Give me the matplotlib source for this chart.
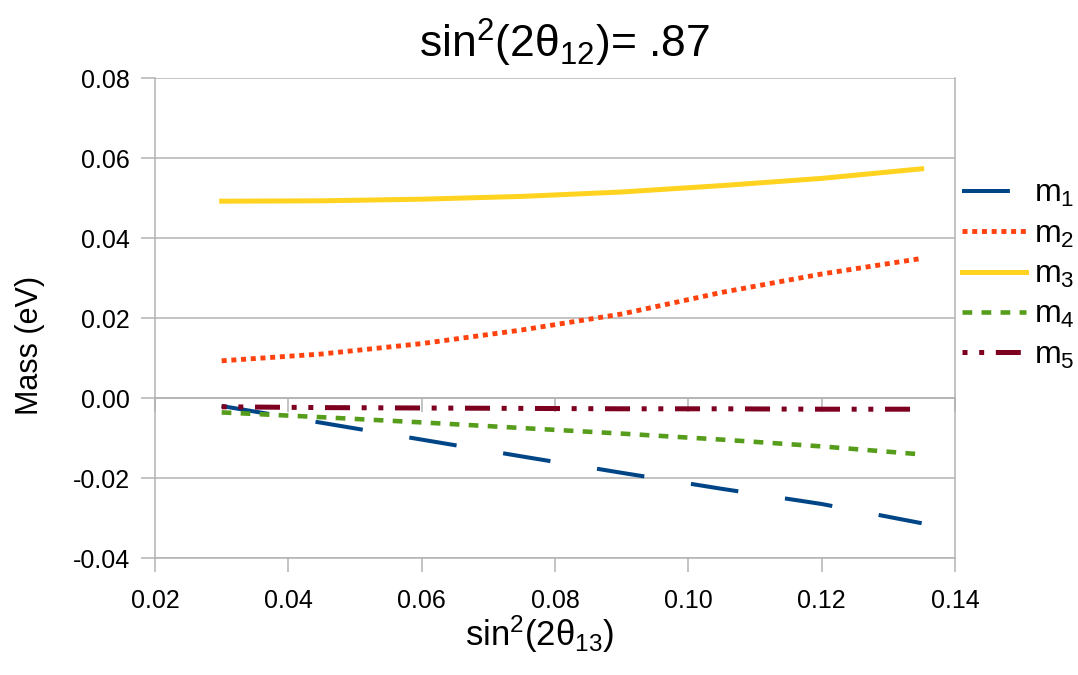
import matplotlib
matplotlib.use("Agg")
import matplotlib.pyplot as plt

plt.rcParams['font.family'] = ['Liberation Sans', 'DejaVu Sans']
plt.rcParams['mathtext.fontset'] = 'custom'
plt.rcParams['mathtext.rm'] = 'Liberation Sans'
plt.rcParams['mathtext.it'] = 'Liberation Sans'
plt.rcParams['lines.scale_dashes'] = False

# sin^2(2 theta_13) values
x = [0.030, 0.045, 0.060, 0.075, 0.090, 0.105, 0.120, 0.135]
m1 = [-0.0020, -0.0062, -0.0104, -0.0146, -0.0187, -0.0227, -0.0265, -0.0313]
m2 = [0.0093, 0.0110, 0.0136, 0.0170, 0.0210, 0.0264, 0.0310, 0.0349]
m3 = [0.0492, 0.0493, 0.0497, 0.0504, 0.0515, 0.0531, 0.0549, 0.0573]
m4 = [-0.0036, -0.0048, -0.0061, -0.0075, -0.0089, -0.0104, -0.0121, -0.0141]
m5 = [-0.0022, -0.0024, -0.0025, -0.0026, -0.0027, -0.0027, -0.0028, -0.0028]
labels = ['m$_1$', 'm$_2$', 'm$_3$', 'm$_4$', 'm$_5$']
xticks = [0.02, 0.04, 0.06, 0.08, 0.10, 0.12, 0.14]
yticks = [-0.04, -0.02, 0.00, 0.02, 0.04, 0.06, 0.08]

grey = '#b3b3b3'

fig = plt.figure(figsize=(10.78, 6.75), dpi=100)
ax = fig.add_axes([155/1078, 1 - 558/675, 800/1078, 480/675])

ax.plot(x, m1, color='#004586', lw=2.9, dashes=(34.5, 34), label=labels[0])
ax.plot(x, m2, color='#ff420e', lw=3.5, dashes=(3.6, 3.4), label=labels[1])
ax.plot(x, m3, color='#ffd320', lw=3.6, label=labels[2])
ax.plot(x, m4, color='#579d1c', lw=3.3, dashes=(7, 6.7), label=labels[3])
ax.plot(x, m5, color='#7e0021', lw=3.6, dashes=(3.6, 8.4, 3.6, 8.4, 18, 8.4), label=labels[4])

ax.set_xlim(0.02, 0.14)
ax.set_ylim(-0.04, 0.08)
ax.set_xticks(xticks)
ax.set_yticks(yticks)
ax.set_xticklabels(['%.2f' % v for v in xticks])
ax.set_yticklabels(['%.2f' % v for v in yticks])
ax.yaxis.grid(True, color=grey, lw=1.1)
ax.set_axisbelow(True)
for s in ax.spines.values():
    s.set_color(grey)
    s.set_linewidth(1.1)
ax.spines['top'].set_visible(False)
ax.tick_params(axis='both', direction='out', length=10, width=1.1, color=grey,
               labelsize=18)
ax.tick_params(axis='x', pad=12)
ax.tick_params(axis='y', pad=8)

# x axis crossing at y = 0
sec = ax.secondary_xaxis(1/3)
sec.set_xticks(xticks)
sec.tick_params(direction='out', length=10, width=1.1, color=grey, labelbottom=False,
                labeltop=False, bottom=True, top=False)
for s in sec.spines.values():
    s.set_color(grey)
    s.set_linewidth(1.1)

fig.text(565/1078, 1 - 58/675, 'sin$^2$(2θ$_{12}$)= .87', fontsize=32,
         ha='center', va='baseline')
fig.text(540/1078, 1 - 646/675, 'sin$^2$(2θ$_{13}$)', fontsize=25,
         ha='center', va='baseline')
fig.text(30/1078, 1 - 345/675, 'Mass (eV)', fontsize=22, rotation=90,
         ha='center', va='center')

ax.legend(loc='center left', bbox_to_anchor=(962/1078, 1 - 275/675),
          bbox_transform=fig.transFigure, frameon=False, fontsize=23,
          handlelength=2.0, handletextpad=0.25, labelspacing=0.32, borderaxespad=0,
          borderpad=0)

fig.savefig('out.png', dpi=100)
